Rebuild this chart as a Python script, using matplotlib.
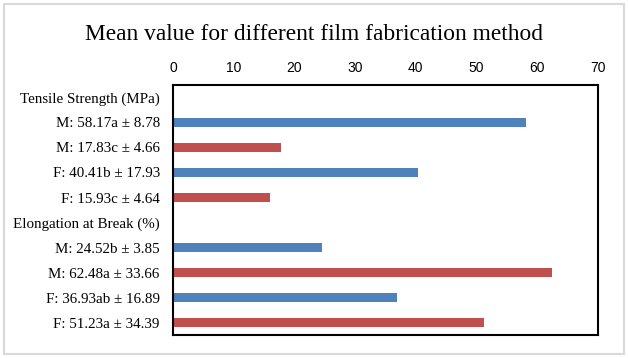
# bar chart of mean values for film fabrication methods
import numpy as np
import matplotlib.pyplot as plt
from matplotlib.patches import Rectangle

# category labels top to bottom
labels = ["Tensile Strength (MPa)",
          "M: 58.17a \u00b1 8.78",
          "M: 17.83c \u00b1 4.66",
          "F: 40.41b \u00b1 17.93",
          "F: 15.93c \u00b1 4.64",
          "Elongation at Break (%)",
          "M: 24.52b \u00b1 3.85",
          "M: 62.48a \u00b1 33.66",
          "F: 36.93ab \u00b1 16.89",
          "F: 51.23a \u00b1 34.39"]
# mean values (header rows have no bar)
values = [0, 58.17, 17.83, 40.41, 15.93, 0, 24.52, 62.48, 36.93, 51.23]
colors = ["none", "#4F81BD", "#C0504D", "#4F81BD", "#C0504D",
          "none", "#4F81BD", "#C0504D", "#4F81BD", "#C0504D"]
xticks = [0, 10, 20, 30, 40, 50, 60, 70]

fig = plt.figure(figsize=(6.28, 3.58), dpi=100)
ax = fig.add_axes([0.2755, 0.0642, 0.6765, 0.6984])

y = np.arange(len(labels))
ax.barh(y, values, height=0.34, color=colors)
ax.set_ylim(len(labels) - 0.5, -0.5)
ax.set_xlim(0, 70)

ax.set_yticks(y)
ax.set_yticklabels(labels, fontfamily="Liberation Serif", fontsize=10.8)
ax.set_xticks(xticks)
ax.set_xticklabels([str(t) for t in xticks], fontfamily="Liberation Sans", fontsize=10)
ax.xaxis.tick_top()
ax.tick_params(axis="both", length=0)
ax.tick_params(axis="x", pad=7)
ax.tick_params(axis="y", pad=9.5)
for s in ax.spines.values():
    s.set_linewidth(1.5)
    s.set_color("black")

fig.text(0.5, 0.905, "Mean value for different film fabrication method",
         ha="center", va="center", fontfamily="Liberation Serif", fontsize=16.8)

# light grey frame around the chart
fig.patches.append(Rectangle((0.006, 0.012), 0.988, 0.976, transform=fig.transFigure,
                             fill=False, edgecolor="#D9D9D9", linewidth=1.5))

fig.savefig("out.png", dpi=100)
